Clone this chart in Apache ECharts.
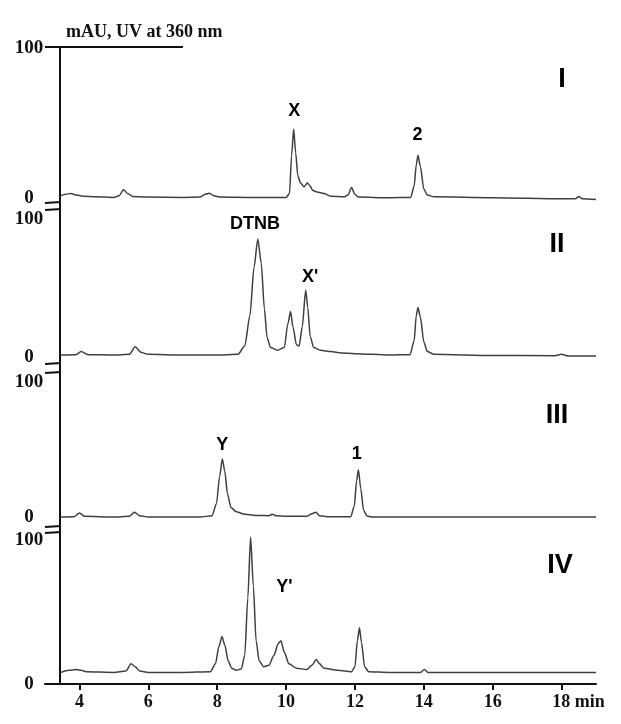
<!DOCTYPE html>
<html><head><meta charset="utf-8">
<script src="https://cdn.jsdelivr.net/npm/echarts@6/dist/echarts.min.js"></script>
<style>html,body{margin:0;padding:0;background:#fff}#c{width:621px;height:724px}</style>
</head><body><div id="c"></div>
<script>
// ---- data (retention time in min, absorbance in mAU) ----
const xTickValues = [4, 6, 8, 10, 12, 14, 16, 18];
const yTickValues = [0, 100];
const panelNames = ['I', 'II', 'III', 'IV'];

const time1 = [3.45,3.6,3.75,3.9,4.1,4.5,5.0,5.15,5.28,5.4,5.55,6.0,7.0,7.5,7.65,7.77,7.9,8.1,9.0,10.0,10.1,10.16,10.22,10.28,10.34,10.42,10.52,10.62,10.68,10.78,10.9,11.1,11.3,11.7,11.8,11.9,12.0,12.1,13.0,13.62,13.72,13.78,13.83,13.9,14.0,14.1,14.3,16.0,18.0,18.4,18.5,18.6,19.0];
const signal1 = [1.5,2.5,3,2,1.2,0.8,0.4,1.5,5.5,3,1,0.6,0.4,0.6,2.5,3.2,1.5,0.6,0.3,0.3,3,28,46,30,15,10,7.5,10,8.5,5,4,3,1.2,0.8,2,7,2.5,0.6,0.2,0.4,8,22,28.5,21,6,2,0.8,0.2,-0.5,-0.5,1,-0.5,-1];

const time2 = [3.45,3.9,4.05,4.25,5.0,5.45,5.62,5.78,6.0,7.0,8.0,8.6,8.8,8.95,9.07,9.18,9.28,9.37,9.45,9.55,9.75,9.95,10.05,10.13,10.2,10.3,10.38,10.47,10.57,10.63,10.7,10.8,11.0,11.3,11.6,12.0,13.0,13.6,13.72,13.78,13.83,13.9,14.0,14.1,14.3,16.0,17.8,18.0,18.2,19.0];
const signal2 = [1.5,1.8,4,1.8,1.5,2,7.5,3.5,2,1.5,1.5,2,8,30,65,85.5,68,35,14,7,5,7,24,33,22,9,8,22,48.5,36,15,7,5,4,3,2.5,1.5,1.8,12,30,36,29,11,4,2,1.2,1,2,0.8,0.8];

const time3 = [3.45,3.85,4.0,4.15,5.0,5.45,5.6,5.75,6.0,7.5,7.85,7.98,8.07,8.15,8.22,8.3,8.4,8.55,8.8,9.2,9.5,9.6,9.7,10.0,10.6,10.75,10.87,10.97,11.2,11.88,11.98,12.05,12.1,12.17,12.25,12.35,12.5,16.0,19.0];
const signal3 = [0,0.3,3,0.5,0,0.5,3.5,1,0,0,1,10,30,43,34,17,7,4,2,1.2,1,2,1,0.5,0.5,2.5,3.5,1,0.3,0.3,8,27,35,21,5,0.8,0,0,0];

const time4 = [3.45,3.7,3.9,4.05,4.2,5.0,5.35,5.5,5.62,5.75,6.0,7.0,7.8,7.95,8.05,8.14,8.22,8.32,8.42,8.55,8.7,8.8,8.89,8.97,9.05,9.13,9.22,9.35,9.5,9.65,9.77,9.85,9.95,10.08,10.3,10.6,10.75,10.88,10.97,11.1,11.5,11.9,12.0,12.07,12.13,12.19,12.28,12.4,13.0,13.9,14.02,14.12,19.0];
const signal4 = [8,9.5,10,9.5,8.5,8,9,14,12,9,8,8,8.5,14,26,33,27,16,11,9.5,10.5,20,60,102,68,30,16,12,13,20,28,30,22,14,11,10,13,17,14,11,9.5,8.5,12,30,39,29,12,8.5,8,8,10,8,8];

// peak annotations: [time, signal level where text sits, text]
const peakNotes1 = [[10.24, 58, 'X'], [13.82, 42, '2']];
const peakNotes2 = [[9.1, 96, 'DTNB'], [10.7, 58, "X'"]];
const peakNotes3 = [[8.15, 53, 'Y'], [12.05, 47, '1']];
const peakNotes4 = [[9.95, 67, "Y'"]];

// ---- layout ----
const times = [time1, time2, time3, time4];
const signals = [signal1, signal2, signal3, signal4];
const notes = [peakNotes1, peakNotes2, peakNotes3, peakNotes4];
const gridDefs = [
  {top: 48, height: 171, min: -14},
  {top: 219, height: 163, min: -18},
  {top: 382, height: 158, min: -17},
  {top: 540, height: 144, min: 0}
];
const SERIF = "'Liberation Serif','Times New Roman',serif";
const SANS = "'Liberation Sans',Arial,sans-serif";
const INK = '#111';
const TRACE = '#404040';

const grid = [], xAxis = [], yAxis = [], series = [];
gridDefs.forEach((g, i) => {
  grid.push({left: 45, right: 25, top: g.top, height: g.height, outerBoundsMode: 'none', containLabel: false});
  const last = i === 3;
  xAxis.push({
    type: 'value', gridIndex: i, min: 3, max: 19, show: last,
    axisLine: {show: last, onZero: false, lineStyle: {color: INK, width: 2}},
    axisTick: {show: last, customValues: xTickValues, length: 6, lineStyle: {color: INK, width: 2}},
    axisLabel: {
      show: last, customValues: xTickValues, margin: 9,
      fontFamily: SERIF, fontWeight: 'bold', fontSize: 18, color: INK,
      formatter: v => v === 18 ? '{p|}18 min' : String(v),
      rich: {p: {width: 34}}
    },
    splitLine: {show: false}
  });
  yAxis.push({
    type: 'value', gridIndex: i, min: g.min, max: 100, offset: -15,
    axisLine: {show: true, onZero: false, lineStyle: {color: INK, width: 2}},
    axisTick: {show: false},
    axisLabel: {
      show: true, customValues: yTickValues, margin: 31, align: 'center', verticalAlign: 'middle',
      fontFamily: SERIF, fontWeight: 'bold', fontSize: 19, color: INK
    },
    splitLine: {show: false}
  });
  series.push({
    type: 'line', xAxisIndex: i, yAxisIndex: i,
    data: times[i].map((t, k) => [t, signals[i][k]]),
    showSymbol: false, symbol: 'none', smooth: 0.25, smoothMonotone: 'x', clip: false,
    lineStyle: {color: TRACE, width: 1.5}, silent: true, animation: false
  });
  series.push({
    type: 'scatter', xAxisIndex: i, yAxisIndex: i, symbolSize: 1,
    itemStyle: {color: 'rgba(0,0,0,0)', opacity: 1},
    data: notes[i].map(n => ({value: [n[0], n[1]], name: n[2]})),
    label: {show: true, position: 'inside', formatter: p => p.name, opacity: 1,
      fontFamily: SANS, fontWeight: 'bold', fontSize: 18, color: '#000'},
    silent: true, animation: false
  });
});

const romanPos = [[562, 80], [557, 245], [557, 416], [560, 566]];
const graphic = [
  {type: 'line', shape: {x1: 45, y1: 47, x2: 183, y2: 47}, style: {stroke: INK, lineWidth: 2}},
  {type: 'line', shape: {x1: 45, y1: 203, x2: 61, y2: 202}, style: {stroke: INK, lineWidth: 2}},
  {type: 'line', shape: {x1: 45, y1: 210, x2: 61, y2: 209}, style: {stroke: INK, lineWidth: 2}},
  {type: 'line', shape: {x1: 45, y1: 364, x2: 61, y2: 363}, style: {stroke: INK, lineWidth: 2}},
  {type: 'line', shape: {x1: 45, y1: 373, x2: 61, y2: 372}, style: {stroke: INK, lineWidth: 2}},
  {type: 'line', shape: {x1: 45, y1: 527, x2: 61, y2: 526}, style: {stroke: INK, lineWidth: 2}},
  {type: 'line', shape: {x1: 45, y1: 533, x2: 61, y2: 532}, style: {stroke: INK, lineWidth: 2}}
];
panelNames.forEach((nm, i) => {
  graphic.push({type: 'text', x: romanPos[i][0], y: romanPos[i][1],
    style: {text: nm, font: "bold 27px " + SANS, fill: '#000', align: 'center', verticalAlign: 'middle'}});
});

const chart = echarts.init(document.getElementById('c'), null, {renderer: 'canvas'});
chart.setOption({
  animation: false,
  backgroundColor: '#fff',
  title: {text: 'mAU, UV at 360 nm', left: 61, top: 18,
    textStyle: {fontFamily: SERIF, fontWeight: 'bold', fontSize: 18, color: INK}},
  grid, xAxis, yAxis, series, graphic
});
</script></body></html>
